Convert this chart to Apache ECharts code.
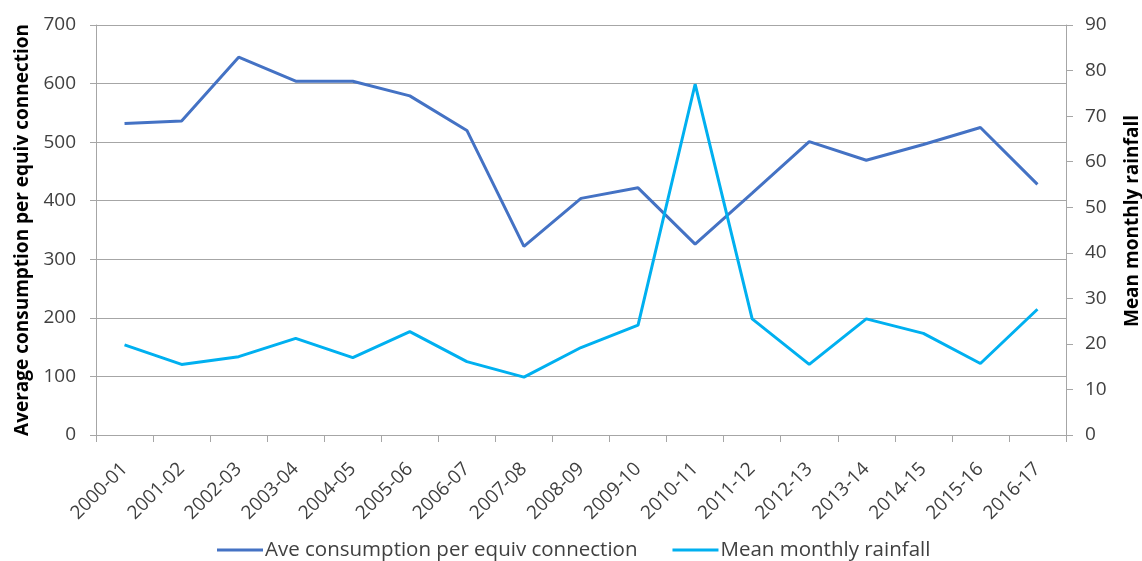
<!DOCTYPE html>
<html>
<head>
<meta charset="utf-8">
<script src="https://cdn.jsdelivr.net/npm/echarts@6/dist/echarts.min.js"></script>
<style>
  html, body { margin: 0; padding: 0; background: #fff; }
  #chart { width: 1142px; height: 561px; }
</style>
</head>
<body>
<div id="chart"></div>
<script>
// Financial years on the category axis
const years = ['2000-01','2001-02','2002-03','2003-04','2004-05','2005-06','2006-07','2007-08',
  '2008-09','2009-10','2010-11','2011-12','2012-13','2013-14','2014-15','2015-16','2016-17'];

// Average consumption per equivalent connection (left axis)
const consumption = [532, 536, 645, 604, 604, 579, 520, 322, 404, 422, 326, 413, 501, 469, 496, 525, 428];

// Mean monthly rainfall (right axis)
const rainfall = [19.8, 15.5, 17.2, 21.2, 17.0, 22.7, 16.1, 12.7, 19.2, 24.1, 77.0, 25.5, 15.5, 25.5, 22.3, 15.7, 27.6];

const font = '"Open Sans", "Noto Sans", sans-serif';
const labelColor = '#404040';
const lineGray = '#a6a6a6';

const chart = echarts.init(document.getElementById('chart'), null, { renderer: 'canvas' });
chart.setOption({
  animation: false,
  backgroundColor: '#fff',
  grid: { left: 96, right: 76, top: 25, bottom: 126, containLabel: false, outerBoundsMode: 'none' },
  legend: {
    top: 539,
    left: 217,
    padding: 0,
    itemGap: 35,
    itemWidth: 46,
    itemHeight: 3,
    icon: 'rect',
    textStyle: { fontFamily: font, fontSize: 20.5, lineHeight: 22, color: labelColor, padding: [0, 0, 0, -3] },
    data: ['Ave consumption per equiv connection', 'Mean monthly rainfall']
  },
  xAxis: {
    type: 'category',
    data: years,
    boundaryGap: true,
    axisLine: { lineStyle: { color: lineGray, width: 1 } },
    axisTick: { show: true, length: 7, lineStyle: { color: lineGray } },
    axisLabel: { rotate: 45, fontFamily: font, fontSize: 19, color: labelColor, margin: 31 }
  },
  yAxis: [
    {
      type: 'value',
      min: 0, max: 700, interval: 100,
      name: 'Average consumption per equiv connection',
      nameLocation: 'middle',
      nameRotate: 90,
      nameGap: 64,
      nameTextStyle: { fontFamily: font, fontSize: 19, fontWeight: 'bold', color: '#000' },
      axisLine: { show: true, lineStyle: { color: lineGray } },
      axisTick: { show: true, length: 6, lineStyle: { color: lineGray } },
      axisLabel: { fontFamily: font, fontSize: 19, color: labelColor, margin: 20 },
      splitLine: { show: true, lineStyle: { color: lineGray, width: 1 } }
    },
    {
      type: 'value',
      min: 0, max: 90, interval: 10,
      position: 'right',
      name: 'Mean monthly rainfall',
      nameLocation: 'middle',
      nameRotate: 90,
      nameGap: 57,
      nameTextStyle: { fontFamily: font, fontSize: 19, fontWeight: 'bold', color: '#000', padding: [0, 0, 0, 18] },
      axisLine: { show: true, lineStyle: { color: lineGray } },
      axisTick: { show: true, length: 7, lineStyle: { color: lineGray } },
      axisLabel: { fontFamily: font, fontSize: 19, color: labelColor, margin: 19 },
      splitLine: { show: false }
    }
  ],
  series: [
    {
      name: 'Ave consumption per equiv connection',
      type: 'line',
      yAxisIndex: 0,
      data: consumption,
      symbol: 'none',
      lineStyle: { color: '#4472C4', width: 3 },
      itemStyle: { color: '#4472C4' }
    },
    {
      name: 'Mean monthly rainfall',
      type: 'line',
      yAxisIndex: 1,
      data: rainfall,
      symbol: 'none',
      lineStyle: { color: '#00B0F0', width: 3 },
      itemStyle: { color: '#00B0F0' }
    }
  ]
});
</script>
</body>
</html>
